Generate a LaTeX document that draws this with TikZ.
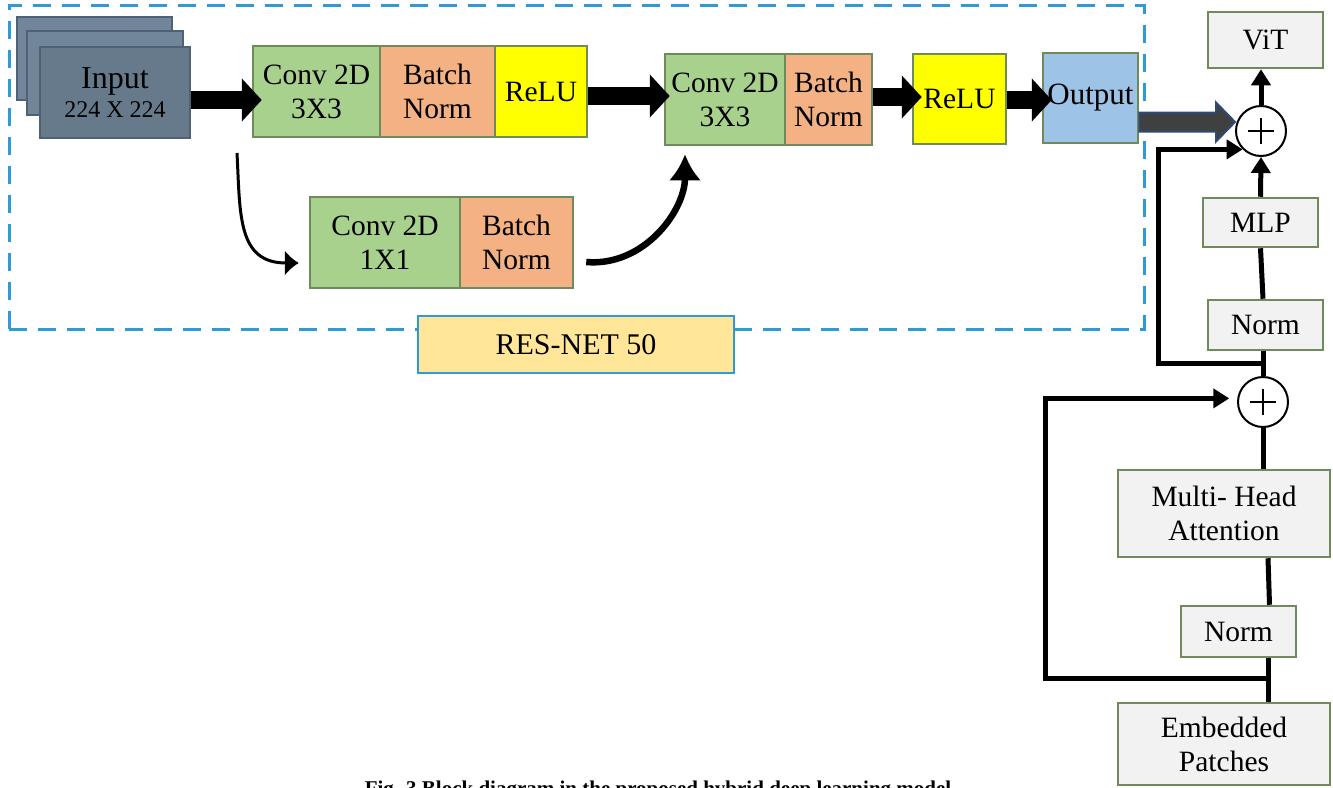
\documentclass[tikz,border=0pt]{standalone}
\usepackage{fontspec}
\setmainfont{Liberation Serif}
\usetikzlibrary{arrows.meta,calc}
\definecolor{cgreen}{HTML}{A9D18E}
\definecolor{corange}{HTML}{F4B183}
\definecolor{cyellow}{HTML}{FFFF00}
\definecolor{cblue}{HTML}{9DC3E6}
\definecolor{cgray}{HTML}{F2F2F2}
\definecolor{cgold}{HTML}{FFE699}
\definecolor{cdash}{HTML}{2E9BD6}
\definecolor{bgreen}{HTML}{6F8B5C}
\definecolor{inA}{HTML}{677A8C}
\definecolor{inB}{HTML}{72869A}
\definecolor{inBorder}{HTML}{4E6175}
\definecolor{darkfill}{HTML}{404040}
\definecolor{navy}{HTML}{2F4A78}
\begin{document}
\begin{tikzpicture}[x=1pt,y=-1pt,
  box/.style={draw=bgreen, line width=2.5pt, inner sep=0pt, align=center,
    font=\fontsize{29.5}{34}\selectfont},
  inbox/.style={draw=inBorder, line width=2.5pt, inner sep=0pt, align=center},
  blk/.style={line width=18pt, -{Triangle[length=20pt,width=42pt]}},
  rline/.style={line width=5pt},
  rtip/.style={-{Triangle[length=16pt,width=19pt]}},
  plusnode/.style={circle, draw, fill=white, line width=2pt, minimum size=50pt, inner sep=0pt,
    path picture={\draw[line width=2pt]
      ([xshift=-13pt]path picture bounding box.center) -- ([xshift=13pt]path picture bounding box.center)
      ([yshift=-13pt]path picture bounding box.center) -- ([yshift=13pt]path picture bounding box.center);}},
  darkarrow/.style={fill=darkfill, draw=navy, line width=2pt, line join=miter}
]
\useasboundingbox (0,0) rectangle (1333,787);

% dashed frame of the ResNet part
\node[draw=cdash, line width=3pt, dash pattern=on 18pt off 11pt, minimum width=1135pt,
      minimum height=324pt, inner sep=0pt] (frame) at (576.5,167) {};

% input stack
\node[inbox, fill=inB, minimum width=155pt, minimum height=83pt] (in3) at (94.5,58.5) {};
\node[inbox, fill=inB, minimum width=156pt, minimum height=84pt] (in2) at (105,73) {};
\node[inbox, fill=inA, minimum width=150pt, minimum height=91pt,
      font=\fontsize{32}{29}\selectfont] (in1) at (115,92.5)
  {Input\\{\fontsize{24}{29}\selectfont 224 X 224}};

% first block
\node[box, fill=cgreen, minimum width=127pt, minimum height=91pt] (c1) at (316.5,91.5) {Conv 2D\\3X3};
\node[box, fill=corange, minimum width=115pt, minimum height=91pt] (b1) at (437.5,91.5) {Batch\\Norm};
\node[box, fill=cyellow, minimum width=92pt, minimum height=91pt] (r1) at (541,91.5) {ReLU};

% second block
\node[box, fill=cgreen, minimum width=120pt, minimum height=91pt] (c2) at (725,99.5) {Conv 2D\\3X3};
\node[box, fill=corange, minimum width=87pt, minimum height=91pt] (b2) at (828.5,99.5) {Batch\\Norm};
\node[box, fill=cyellow, minimum width=93pt, minimum height=90pt] (r2) at (959.5,99) {ReLU};
\node[box, fill=cblue, minimum width=95pt, minimum height=90pt, font=\fontsize{31}{34}\selectfont] (out) at (1090.5,98) {Output};

% shortcut block
\node[box, fill=cgreen, minimum width=150pt, minimum height=91pt] (c3) at (385,242.5) {Conv 2D\\1X1};
\node[box, fill=corange, minimum width=113pt, minimum height=91pt] (b3) at (516.5,242.5) {Batch\\Norm};

% label
\node[draw=cdash, fill=cgold, line width=2.5pt, inner sep=0pt, minimum width=316pt,
      minimum height=57pt, font=\fontsize{30}{34}\selectfont] (res) at (576,344.5) {RES-NET 50};

% block arrows
\draw[blk] ([yshift=-7.5pt]in1.east) -- ([xshift=10pt,yshift=-8.5pt]c1.west);
\draw[blk] ([yshift=-4.5pt]r1.east) -- ([xshift=6pt,yshift=3.5pt]c2.west);
\draw[blk] ([yshift=2.5pt]b2.east) -- ([xshift=10pt,yshift=2pt]r2.west);
\draw[blk] ([yshift=-1pt]r2.east) -- ([xshift=10pt,yshift=-2pt]out.west);

% curved shortcut arrows
\coordinate (cs) at (237,153);
\draw[line width=3pt, -{Latex[length=14pt,width=26pt]}] (cs)
  to[out=-87,in=180,looseness=1.25] ([xshift=-10pt,yshift=-20.5pt]c3.west);
\draw[line width=6.5pt, -{Latex[length=26pt,width=32pt]}] ([xshift=12pt,yshift=-19.5pt]b3.east)
  to[out=-5,in=-90] ([xshift=-40pt,yshift=-8pt]c2.south);

% ViT part
\node[box, fill=cgray, minimum width=115pt, minimum height=56pt] (vit) at (1265.5,40) {ViT};
\node[plusnode] (p1) at (1261,131) {};
\node[box, fill=cgray, minimum width=115pt, minimum height=49pt] (mlp) at (1260.5,222.5) {MLP};
\node[box, fill=cgray, minimum width=115pt, minimum height=50pt] (norm1) at (1265.5,325) {Norm};
\node[plusnode] (p2) at (1263,402) {};
\node[box, fill=cgray, minimum width=212pt, minimum height=87pt] (mha) at (1224,513.5) {Multi- Head\\Attention};
\node[box, fill=cgray, minimum width=115pt, minimum height=51pt] (norm2) at (1238.5,631.5) {Norm};
\node[box, fill=cgray, minimum width=212pt, minimum height=82pt] (emb) at (1224,744) {Embedded\\Patches};

% dark arrow from the ResNet output
\coordinate (da1) at ([yshift=-24pt]out.east);
\draw[darkarrow] let \p1=(da1), \p2=(p1.west |- da1) in
  (\x1,\y1+9.5pt) -- (\x2-19pt,\y1+9.5pt) -- (\x2-19pt,\y1+19.5pt) -- (\x2,\y1)
  -- (\x2-19pt,\y1-19.5pt) -- (\x2-19pt,\y1-9.5pt) -- (\x1,\y1-9.5pt) -- cycle;

% ViT connectors
\draw[rline, rtip] (p1.north) -- ([xshift=-4.5pt]vit.south);
\draw[rline, rtip] (mlp.north) -- (p1.south);
\draw[rline] ([xshift=-2.5pt]norm1.north) -- (mlp.south);
\draw[rline] (p2.north) -- ([xshift=-2.5pt]norm1.south);
\draw[rline] ([xshift=39pt]mha.north) -- (p2.south);
\draw[rline] ([xshift=31pt]norm2.north) -- ([xshift=44pt]mha.south);
\draw[rline] ([xshift=44pt]emb.north) -- ([xshift=29.5pt]norm2.south);

% residual connections
\coordinate (j1) at ($(p2.north)!0.5!([xshift=-2.5pt]norm1.south)$);
\coordinate (k1) at (1158,0);
\draw[rline, rtip] (j1) -- (j1 -| k1) |- (p1.225);
\coordinate (j2) at ($([xshift=44pt]emb.north)!0.54!([xshift=29.5pt]norm2.south)$);
\coordinate (k2) at (1045,0);
\draw[rline, rtip, shorten >=8pt] (j2) -- (j2 -| k2) |- (p2.172);

% caption (cut by the bottom edge)
\begin{scope}
\clip (0,0) rectangle (1333,787);
\node[font=\bfseries\fontsize{21}{25}\selectfont, anchor=base, inner sep=0pt] (cap) at (658,795)
  {Fig. 3 Block diagram in the proposed hybrid deep learning model};
\end{scope}
\end{tikzpicture}
\end{document}
